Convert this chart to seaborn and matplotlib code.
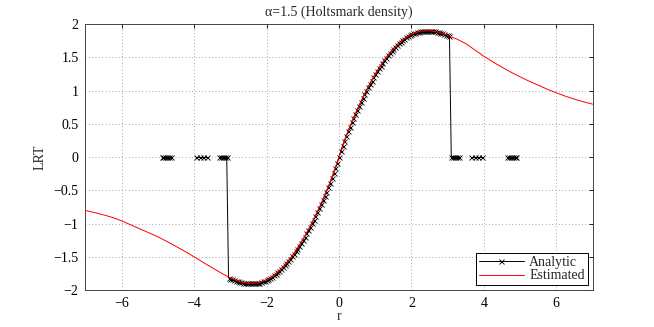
import numpy as np
import pandas as pd
import matplotlib
matplotlib.use("Agg")
import matplotlib.pyplot as plt
from matplotlib.lines import Line2D
import seaborn as sns

# ---------------- data ----------------
title = "\u03b1=1.5 (Holtsmark density)"
x_label = "r"
y_label = "LRT"
x_ticks = [-6, -4, -2, 0, 2, 4, 6]
y_ticks = [-2, -1.5, -1, -0.5, 0, 0.5, 1, 1.5, 2]
y_tick_labels = ["\u22122", "\u22121.5", "\u22121", "\u22120.5", "0", "0.5", "1", "1.5", "2"]

# Analytic LRT: zero-valued clusters (failed evaluations) and the central curve
left_zero_r1 = [-4.90, -4.85, -4.80, -4.75, -4.70, -4.65]
left_zero_r2 = [-3.95, -3.85, -3.75, -3.65]
left_zero_r3 = [-3.30, -3.25, -3.20, -3.15, -3.10]
right_zero_r3 = [3.10, 3.15, 3.20, 3.25, 3.30]
right_zero_r2 = [3.65, 3.75, 3.85, 3.95]
right_zero_r1 = [4.65, 4.70, 4.75, 4.80, 4.85, 4.90]

curve_r = [-3.05, -3.00, -2.95, -2.90, -2.85, -2.80, -2.75, -2.70, -2.65, -2.60,
           -2.55, -2.50, -2.45, -2.40, -2.35, -2.30, -2.25, -2.20, -2.15, -2.10,
           -2.05, -2.00, -1.95, -1.90, -1.85, -1.80, -1.75, -1.70, -1.65, -1.60,
           -1.55, -1.50, -1.45, -1.40, -1.35, -1.30, -1.25, -1.20, -1.15, -1.10,
           -1.05, -1.00, -0.95, -0.90, -0.85, -0.80, -0.75, -0.70, -0.65, -0.60,
           -0.55, -0.50, -0.45, -0.40, -0.35, -0.30, -0.25, -0.20, -0.15, -0.10,
           -0.05, 0.00, 0.05, 0.10, 0.15, 0.20, 0.25, 0.30, 0.35, 0.40,
           0.45, 0.50, 0.55, 0.60, 0.65, 0.70, 0.75, 0.80, 0.85, 0.90,
           0.95, 1.00, 1.05, 1.10, 1.15, 1.20, 1.25, 1.30, 1.35, 1.40,
           1.45, 1.50, 1.55, 1.60, 1.65, 1.70, 1.75, 1.80, 1.85, 1.90,
           1.95, 2.00, 2.05, 2.10, 2.15, 2.20, 2.25, 2.30, 2.35, 2.40,
           2.45, 2.50, 2.55, 2.60, 2.65, 2.70, 2.75, 2.80, 2.85, 2.90,
           2.95, 3.00, 3.05]
curve_lrt = [-1.816, -1.828, -1.840, -1.850, -1.860, -1.868, -1.876, -1.882, -1.888, -1.892,
             -1.896, -1.898, -1.900, -1.900, -1.899, -1.897, -1.893, -1.887, -1.879, -1.870,
             -1.859, -1.847, -1.832, -1.816, -1.799, -1.779, -1.758, -1.736, -1.711, -1.685,
             -1.657, -1.628, -1.597, -1.564, -1.530, -1.494, -1.456, -1.417, -1.376, -1.334,
             -1.290, -1.245, -1.198, -1.150, -1.100, -1.048, -0.996, -0.941, -0.886, -0.828,
             -0.770, -0.710, -0.648, -0.585, -0.521, -0.455, -0.387, -0.317, -0.245, -0.171,
             -0.092, 0.000, 0.092, 0.171, 0.245, 0.317, 0.387, 0.455, 0.521, 0.585,
             0.648, 0.710, 0.770, 0.828, 0.886, 0.941, 0.996, 1.048, 1.100, 1.150,
             1.198, 1.245, 1.290, 1.334, 1.376, 1.417, 1.456, 1.494, 1.530, 1.564,
             1.597, 1.628, 1.657, 1.685, 1.711, 1.736, 1.758, 1.779, 1.799, 1.816,
             1.832, 1.847, 1.859, 1.870, 1.879, 1.887, 1.893, 1.897, 1.899, 1.900,
             1.900, 1.898, 1.896, 1.892, 1.888, 1.882, 1.876, 1.868, 1.860, 1.850,
             1.840, 1.828, 1.816]

# Estimated LRT (red curve)
est_r = [-7.00, -6.75, -6.50, -6.25, -6.00, -5.75, -5.50, -5.25, -5.00, -4.75,
         -4.50, -4.25, -4.00, -3.75, -3.50, -3.25, -3.00, -2.75, -2.50, -2.25,
         -2.00, -1.75, -1.50, -1.25, -1.00, -0.75, -0.50, -0.25, 0.00, 0.25,
         0.50, 0.75, 1.00, 1.25, 1.50, 1.75, 2.00, 2.25, 2.50, 2.75,
         3.00, 3.25, 3.50, 3.75, 4.00, 4.25, 4.50, 4.75, 5.00, 5.25,
         5.50, 5.75, 6.00, 6.25, 6.50, 6.75, 7.00]
est_lrt = [-0.805, -0.835, -0.870, -0.910, -0.960, -1.020, -1.080, -1.140, -1.200, -1.270,
           -1.345, -1.420, -1.500, -1.585, -1.665, -1.745, -1.818, -1.872, -1.900, -1.895,
           -1.850, -1.760, -1.628, -1.456, -1.245, -0.996, -0.710, -0.387, 0.000, 0.387,
           0.710, 0.996, 1.245, 1.456, 1.628, 1.758, 1.847, 1.893, 1.898, 1.876,
           1.828, 1.775, 1.705, 1.610, 1.515, 1.430, 1.350, 1.275, 1.205, 1.140,
           1.080, 1.020, 0.965, 0.915, 0.870, 0.830, 0.795]

# ---------------- build tables ----------------
segments = [
    (left_zero_r1, [0.0] * len(left_zero_r1)),
    (left_zero_r2, [0.0] * len(left_zero_r2)),
    (left_zero_r3 + curve_r + right_zero_r3,
     [0.0] * len(left_zero_r3) + curve_lrt + [0.0] * len(right_zero_r3)),
    (right_zero_r2, [0.0] * len(right_zero_r2)),
    (right_zero_r1, [0.0] * len(right_zero_r1)),
]
rows = []
for sid, (rs, vs) in enumerate(segments):
    for order, (rv, vv) in enumerate(zip(rs, vs)):
        rows.append({"r": rv, "lrt": vv, "seg": sid, "order": order})
analytic = pd.DataFrame(rows)
estimated = pd.DataFrame({"r": est_r, "lrt": est_lrt})

# ---------------- plotting ----------------
sns.set_style("white")
plt.rcParams["font.family"] = ["Liberation Serif", "DejaVu Serif"]
plt.rcParams["axes.unicode_minus"] = True

fig = plt.figure(figsize=(6.54, 3.27), dpi=100)
ax = fig.add_axes([0.1307, 0.1131, 0.7753, 0.8135])

sns.lineplot(data=analytic, x="r", y="lrt", units="seg", estimator=None, sort=False,
             color="black", linewidth=0.7, marker="x", markersize=3.6,
             markeredgewidth=0.6, markeredgecolor="black", ax=ax, zorder=3)
sns.lineplot(data=estimated, x="r", y="lrt", estimator=None, sort=False,
             color="#ff0000", linewidth=0.7, ax=ax, zorder=4)

ax.set_xlim(-7, 7)
ax.set_ylim(-2, 2)
ax.set_xticks(x_ticks)
ax.set_xticklabels([("\u2212" + str(abs(t))) if t < 0 else str(t) for t in x_ticks])
ax.set_yticks(y_ticks)
ax.set_yticklabels(y_tick_labels)
ax.tick_params(direction="in", length=3, width=0.6, labelsize=10, pad=5,
               top=True, right=True, colors="black")
ax.grid(True, linestyle=(0, (1, 3)), color="#888888", linewidth=0.6)
for s in ax.spines.values():
    s.set_linewidth(0.7)
    s.set_color("#444444")
    s.set_visible(True)

ax.set_xlabel(x_label, fontsize=10, labelpad=0)
ax.set_ylabel(y_label, fontsize=10, labelpad=5)
ax.set_title(title, fontsize=10, pad=6)

handles = [Line2D([], [], color="black", lw=0.7, marker="x", markersize=3.6,
                  markeredgewidth=0.6),
           Line2D([], [], color="#ff0000", lw=0.7)]
leg = ax.legend(handles, ["Analytic", "Estimated"], loc="lower right",
                fontsize=10, frameon=True, fancybox=False, framealpha=1,
                edgecolor="black", borderpad=0.2, labelspacing=0.05,
                handlelength=3.2, handletextpad=0.4, borderaxespad=0.35)
leg.get_frame().set_linewidth(0.7)

fig.savefig("out.png", dpi=100)
